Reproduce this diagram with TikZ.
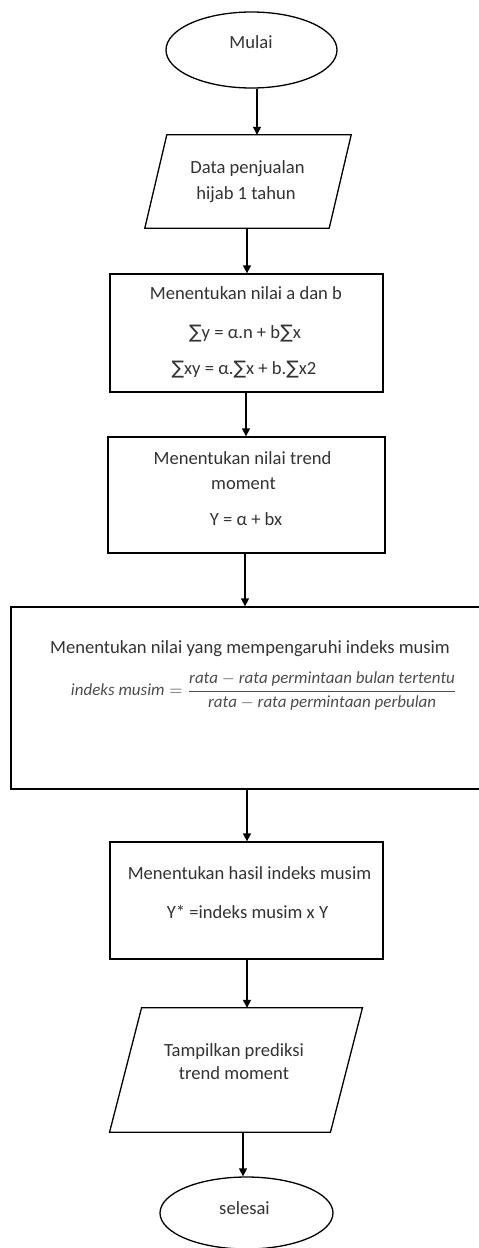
\documentclass[tikz,border=0pt]{standalone}
\usepackage{fontspec}
\usepackage{amsmath}
\usepackage{graphicx}
\setmainfont{Carlito}
\newfontfamily\dejavu{DejaVu Sans}
\usetikzlibrary{shapes.geometric,arrows.meta}
\begin{document}
\begin{tikzpicture}[x=1pt,y=-1pt,
  shapeline/.style={draw=black, line width=1.3pt},
  term/.style={shapeline, ellipse, inner sep=0pt},
  procbox/.style={shapeline, rectangle, inner sep=0pt},
  iocore/.style={rectangle, inner sep=0pt},
  txt/.style={anchor=base, inner sep=0pt, text=black!80, font=\fontsize{18.6}{22}\selectfont},
  arr/.style={line width=1.3pt, -{Triangle[length=8pt,width=8pt]}},
]
\useasboundingbox (0,0) rectangle (479,1248);
\clip (0,0) rectangle (479,1248);

% shapes
\node[term, minimum width=171, minimum height=76] (mulai) at (251.5,50) {};
\node[iocore, minimum width=184, minimum height=93] (data) at (248,181.5) {};
\draw[shapeline, line join=miter] ([xshift=11pt]data.north west) -- ([xshift=11pt]data.north east)
  -- ([xshift=-11pt]data.south east) -- ([xshift=-11pt]data.south west) -- cycle;
\node[procbox, minimum width=273, minimum height=118] (ab) at (246.5,333) {};
\node[procbox, minimum width=277, minimum height=116] (trend) at (246.5,495) {};
\node[procbox, minimum width=480, minimum height=182] (musim) at (251,698) {};
\node[procbox, minimum width=273, minimum height=117] (hasil) at (246.5,900.5) {};
\node[iocore, minimum width=220.5, minimum height=124] (tampil) at (236,1070) {};
\draw[shapeline, line join=miter] ([xshift=16pt]tampil.north west) -- ([xshift=16pt]tampil.north east)
  -- ([xshift=-16pt]tampil.south east) -- ([xshift=-16pt]tampil.south west) -- cycle;
\node[term, minimum width=173, minimum height=72] (selesai) at (246.5,1213) {};

% connector x positions
\coordinate (x1) at (257,0);
\coordinate (x2) at (247,0);
\coordinate (x3) at (246,0);
\coordinate (x4) at (245,0);
\coordinate (x5) at (247,0);
\coordinate (x6) at (247,0);
\coordinate (x7) at (243,0);

\draw[arr] (mulai.south -| x1) -- (data.north -| x1);
\draw[arr] (data.south -| x2) -- (ab.north -| x2);
\draw[arr] (ab.south -| x3) -- (trend.north -| x3);
\draw[arr] (trend.south -| x4) -- (musim.north -| x4);
\draw[arr] (musim.south -| x5) -- (hasil.north -| x5);
\draw[arr] (hasil.south -| x6) -- (tampil.north -| x6);
\draw[arr] (tampil.south -| x7) -- (selesai.north -| x7);

% texts
\node[txt] (t1) at (251,48) {Mulai};
\node[txt] (t2) at (247.5,173) {Data penjualan};
\node[txt] (t3) at (246,199) {hijab 1 tahun};
\node[txt] (t4) at (246,299) {Menentukan nilai a dan b};
\node[txt] (t5) at (245,338) {{\dejavu ∑}y = α.n + b{\dejavu ∑}x};
\node[txt] (t6) at (244,374) {{\dejavu ∑}xy = α.{\dejavu ∑}x + b.{\dejavu ∑}x2};
\node[txt] (t7) at (242.5,464) {Menentukan nilai trend};
\node[txt] (t8) at (243.5,489) {moment};
\node[txt] (t9) at (246,525) {Y = α + bx};
\node[txt] (t10) at (250,653) {Menentukan nilai yang mempengaruhi indeks musim};
\node[inner sep=0pt, text=black!70] (f) at (264,691) {\resizebox{386pt}{!}{$\mathit{indeks\ musim} = \dfrac{\mathit{rata} - \mathit{rata\ permintaan\ bulan\ tertentu}}{\mathit{rata} - \mathit{rata\ permintaan\ perbulan}}$}};
\node[txt] (t11) at (249.5,879) {Menentukan hasil indeks musim};
\node[txt] (t12) at (247.5,918) {Y* =indeks musim x Y};
\node[txt] (t13) at (234,1056) {Tampilkan prediksi};
\node[txt] (t14) at (234,1079) {trend moment};
\node[txt] (t15) at (244.5,1214) {selesai};
\end{tikzpicture}
\end{document}
